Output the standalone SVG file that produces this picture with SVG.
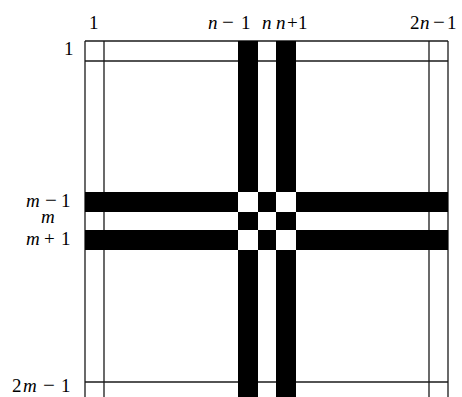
<svg xmlns="http://www.w3.org/2000/svg" width="462" height="397" viewBox="0 0 462 397">
<style>
.ln{stroke:#1a1a1a;stroke-width:1.3;fill:none}
.bar{fill:#000}
.hole{fill:#fff}
text{font-family:"Liberation Serif","DejaVu Serif",serif;font-size:19px;fill:#000}
.v{font-style:italic}
.op{font-size:21px}
</style>
<rect width="462" height="397" fill="#fff"/>
<g id="grid">
<line class="ln" x1="85" y1="41" x2="448" y2="41"/>
<line class="ln" x1="85" y1="61" x2="448" y2="61"/>
<line class="ln" x1="85" y1="382" x2="448" y2="382"/>
<line class="ln" x1="85" y1="41" x2="85" y2="397"/>
<line class="ln" x1="104" y1="41" x2="104" y2="397"/>
<line class="ln" x1="429" y1="41" x2="429" y2="397"/>
<line class="ln" x1="448" y1="41" x2="448" y2="397"/>
</g>
<g id="bars">
<rect class="bar" x="238" y="41" width="20" height="356"/>
<rect class="bar" x="276" y="41" width="20" height="356"/>
<rect class="bar" x="85" y="192" width="363" height="20"/>
<rect class="bar" x="85" y="230" width="363" height="20"/>
<rect class="hole" x="238" y="192" width="20" height="20"/>
<rect class="hole" x="276" y="192" width="20" height="20"/>
<rect class="hole" x="238" y="230" width="20" height="20"/>
<rect class="hole" x="276" y="230" width="20" height="20"/>
</g>
<g id="col-labels">
<text x="89" y="29">1</text>
<text y="29"><tspan class="v" x="208">n</tspan><tspan class="op" x="222">−</tspan><tspan x="241">1</tspan></text>
<text x="262" y="29" class="v">n</text>
<text y="29"><tspan class="v" x="276">n</tspan><tspan x="287">+</tspan><tspan x="298">1</tspan></text>
<text y="29"><tspan x="410">2</tspan><tspan class="v" x="420">n</tspan><tspan class="op" x="433">−</tspan><tspan x="447">1</tspan></text>
</g>
<g id="row-labels">
<text x="64" y="55">1</text>
<text y="207"><tspan class="v" x="26">m</tspan><tspan class="op" x="45">−</tspan><tspan x="61">1</tspan></text>
<text x="41" y="223" class="v">m</text>
<text y="245"><tspan class="v" x="26">m</tspan><tspan x="44">+</tspan><tspan x="61">1</tspan></text>
<text y="392"><tspan x="12">2</tspan><tspan class="v" x="23">m</tspan><tspan class="op" x="43">−</tspan><tspan x="61">1</tspan></text>
</g>
</svg>
